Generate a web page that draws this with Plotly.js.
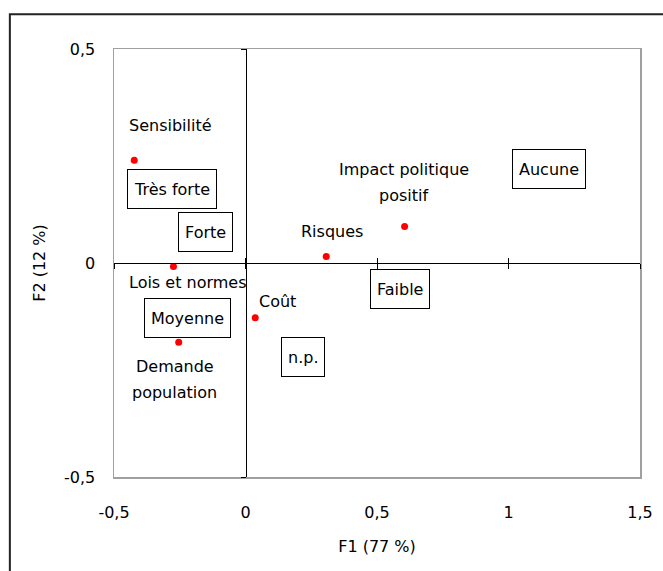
<!DOCTYPE html>
<html>
<head>
<meta charset="utf-8">
<script src="https://cdn.plot.ly/plotly-3.0.1.min.js"></script>
<style>html,body{margin:0;padding:0;background:#fff;}#chart{width:663px;height:571px;}</style>
</head>
<body>
<div id="chart"></div>
<script>
// ---- data ----
const pointLabels = ['Sensibilité', 'Lois et normes', 'Demande\npopulation', 'Coût', 'Risques', 'Impact politique\npositif'];
const pointF1 = [-0.423, -0.274, -0.254, 0.037, 0.307, 0.605];
const pointF2 = [0.240, -0.008, -0.185, -0.128, 0.015, 0.085];

const levelLabels = ['Très forte', 'Forte', 'Moyenne', 'n.p.', 'Faible', 'Aucune'];
const levelF1 = [-0.278, -0.153, -0.220, 0.218, 0.587, 1.153];
const levelF2 = [0.174, 0.073, -0.128, -0.219, -0.061, 0.220];

const xTickVals = [-0.5, 0, 0.5, 1, 1.5];
const xTickText = ['-0,5', '0', '0,5', '1', '1,5'];
const yTickVals = [-0.5, 0, 0.5];
const yTickText = ['-0,5', '0', '0,5'];

const xTitle = 'F1 (77 %)';
const yTitle = 'F2 (12 %)';

// ---- styling / label placement (pixels) ----
const FONT = {family: 'DejaVu Sans, sans-serif', size: 16, color: '#000'};
const labelShift = [[36, 35], [14, -16], [-4, -24], [22, 16], [5.5, 25], [-1, 56.7]];
const lineGap = 26;

const xRange = [-0.5, 1.5];
const yRange = [-0.5, 0.5];

const traces = [
  {
    type: 'scatter', mode: 'markers', x: pointF1, y: pointF2,
    text: pointLabels.map(s => s.replace('\n', ' ')),
    marker: {color: '#ff0000', size: 7}, hoverinfo: 'text', showlegend: false
  },
  {
    type: 'scatter', mode: 'markers', x: levelF1, y: levelF2, text: levelLabels,
    marker: {opacity: 0, size: 1}, hoverinfo: 'text', showlegend: false
  }
];
// invisible helpers so the zero-crossing axes get drawn
[['x2', 'y'], ['x3', 'y'], ['x', 'y2'], ['x', 'y3']].forEach(([xa, ya]) => {
  traces.push({type: 'scatter', mode: 'markers', x: pointF1, y: pointF2, xaxis: xa, yaxis: ya,
    marker: {opacity: 0, size: 1}, hoverinfo: 'skip', showlegend: false});
});

const annotations = [];
pointLabels.forEach((lab, i) => {
  lab.split('\n').forEach((line, j) => {
    annotations.push({
      x: pointF1[i], y: pointF2[i], xref: 'x', yref: 'y', text: line, showarrow: false,
      xshift: labelShift[i][0], yshift: labelShift[i][1] - j * lineGap, font: FONT
    });
  });
});
levelLabels.forEach((lab, i) => {
  annotations.push({
    x: levelF1[i], y: levelF2[i], xref: 'x', yref: 'y', text: lab, showarrow: false,
    font: FONT, bordercolor: '#000', borderwidth: 1, borderpad: 6, height: 26
  });
});

const crossX = (ticks) => ({
  overlaying: 'x', anchor: 'free', position: 0.5, range: xRange,
  tickmode: 'array', tickvals: xTickVals, showticklabels: false,
  ticks: ticks, ticklen: 5, tickwidth: 1, tickcolor: '#000',
  showline: true, linecolor: '#000', linewidth: 1, showgrid: false, zeroline: false, fixedrange: true
});
const crossY = (ticks) => ({
  overlaying: 'y', anchor: 'free', position: 0.25, range: yRange,
  tickmode: 'array', tickvals: yTickVals, showticklabels: false,
  ticks: ticks, ticklen: 5, tickwidth: 1, tickcolor: '#000',
  showline: true, linecolor: '#000', linewidth: 1, showgrid: false, zeroline: false, fixedrange: true
});

const layout = {
  width: 663, height: 571,
  margin: {l: 114, r: 23, t: 49, b: 94},
  paper_bgcolor: '#fff', plot_bgcolor: '#fff',
  font: FONT,
  showlegend: false,
  xaxis: {
    range: xRange, tickmode: 'array', tickvals: xTickVals, ticktext: xTickText,
    ticks: '', ticklabelstandoff: 20, showgrid: false, zeroline: false,
    showline: true, mirror: true, linecolor: '#a0a0a0', linewidth: 1.5,
    tickfont: FONT, automargin: false, fixedrange: true,
    title: {text: xTitle, font: FONT, standoff: 20}
  },
  yaxis: {
    range: yRange, tickmode: 'array', tickvals: yTickVals, ticktext: yTickText,
    ticks: '', ticklabelstandoff: 14, showgrid: false, zeroline: false,
    showline: true, mirror: true, linecolor: '#a0a0a0', linewidth: 1.5,
    tickfont: FONT, automargin: false, fixedrange: true,
    title: {text: yTitle, font: FONT, standoff: 14}
  },
  xaxis2: crossX('outside'),
  xaxis3: crossX('inside'),
  yaxis2: crossY('outside'),
  yaxis3: crossY('inside'),
  annotations: annotations,
  shapes: [{
    type: 'rect', xref: 'paper', yref: 'paper',
    x0: -0.198, x1: 1.08, y0: -0.3, y1: 1.081,
    line: {color: '#222', width: 2}, fillcolor: 'rgba(0,0,0,0)', layer: 'below'
  }]
};

Plotly.newPlot('chart', traces, layout, {displayModeBar: false, staticPlot: true});
</script>
</body>
</html>
